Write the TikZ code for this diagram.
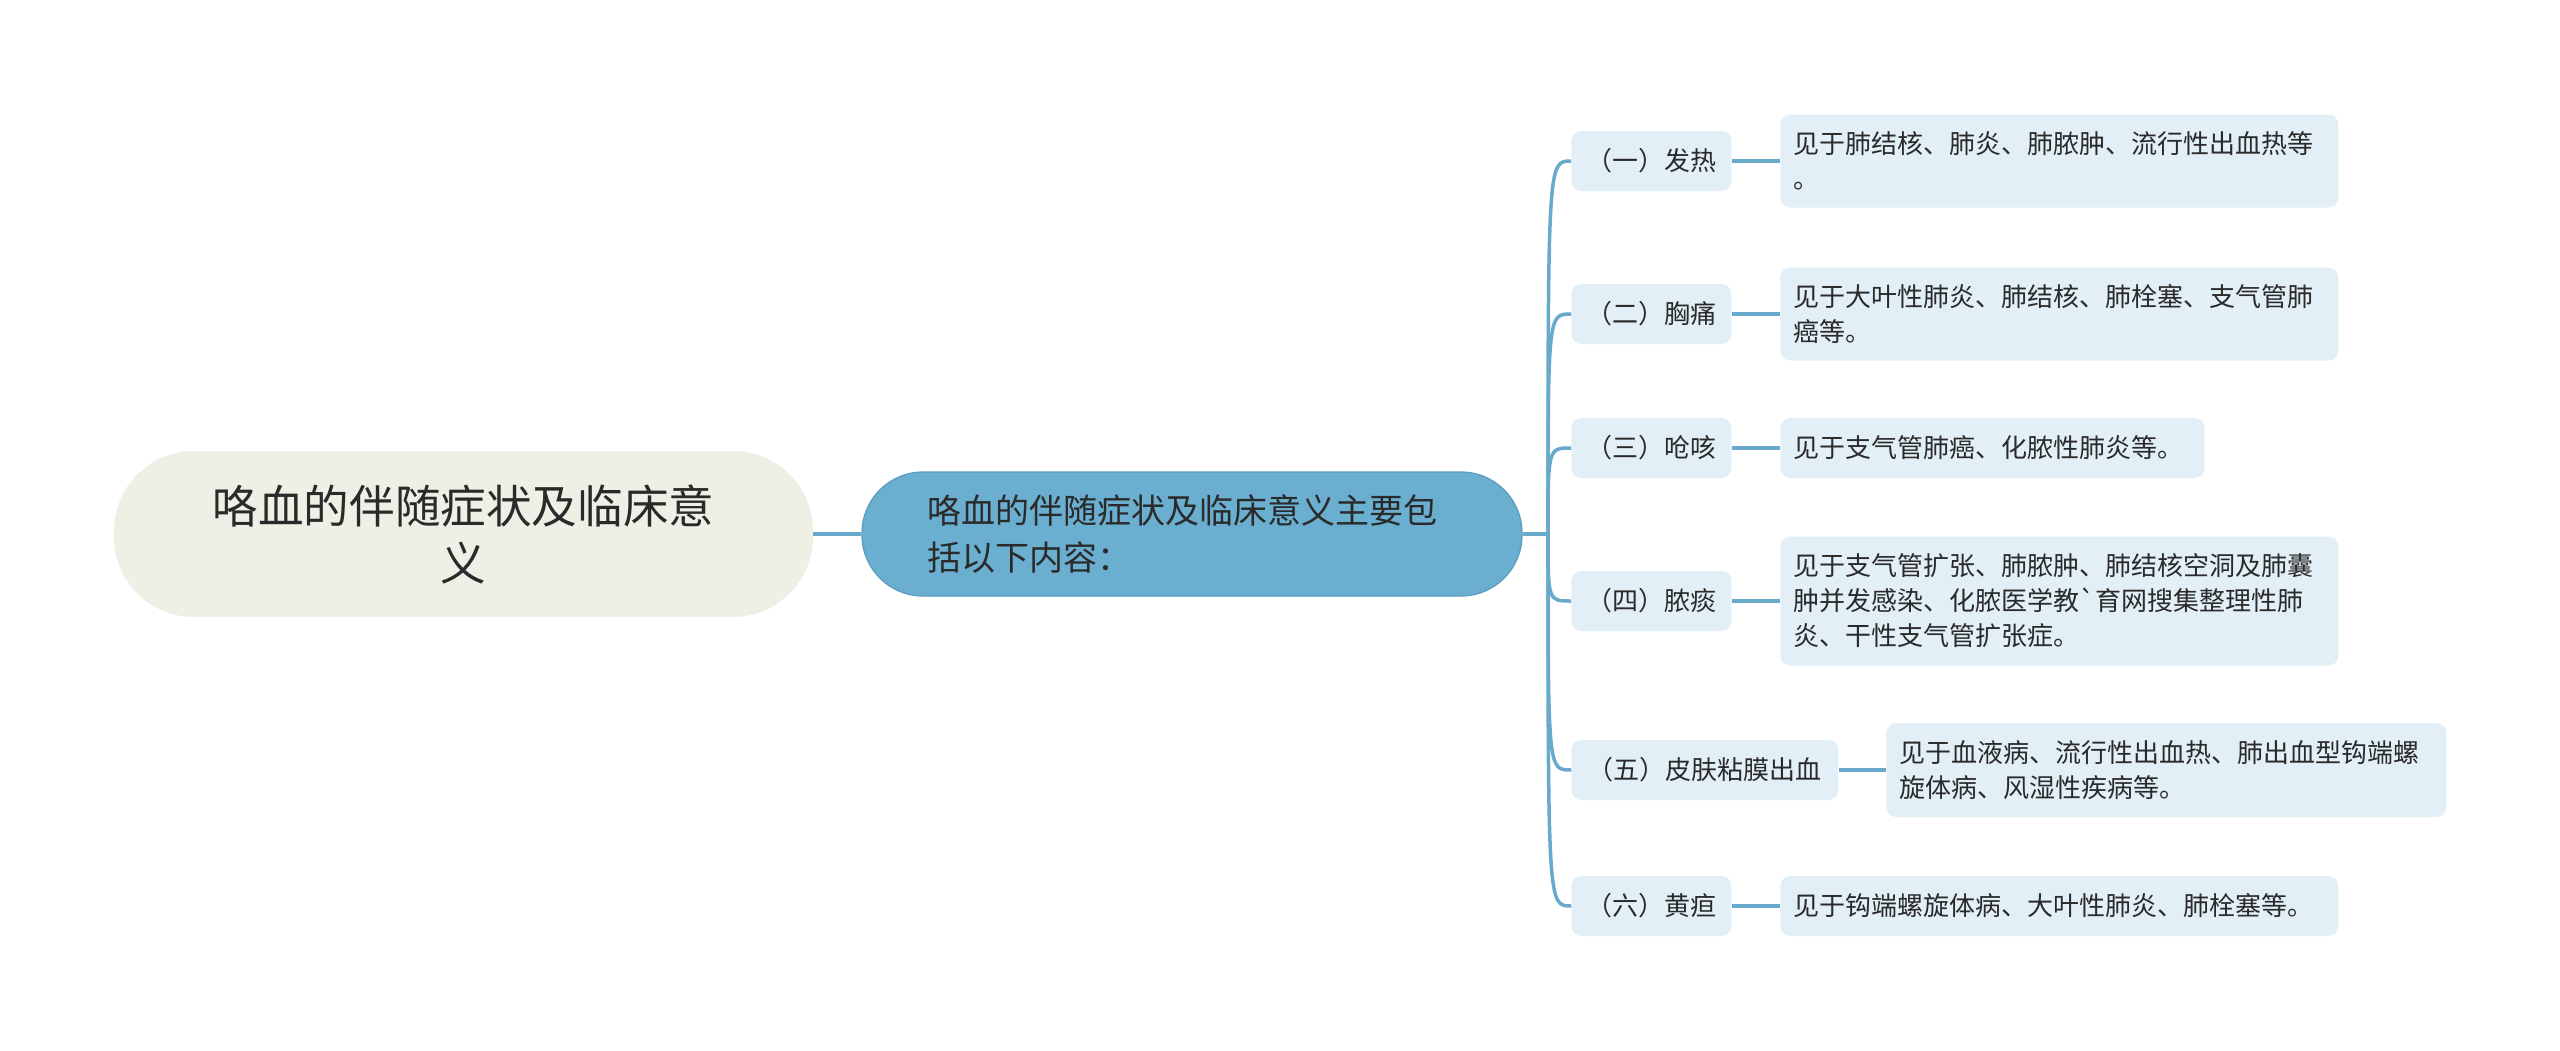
\documentclass[tikz,border=0pt]{standalone}
\usepackage{fontspec}
\newfontfamily\cjk{Noto Sans CJK SC}
\definecolor{rootfill}{HTML}{EFEFE6}
\definecolor{mainfill}{HTML}{6AAED0}
\definecolor{mainborder}{HTML}{5A9CC0}
\definecolor{childfill}{HTML}{E2EFF7}
\definecolor{conncol}{HTML}{68A9CC}
\definecolor{textdark}{HTML}{2A2A2A}
\tikzset{
  rootbox/.style={fill=rootfill, rounded corners=40pt, minimum width=349.5pt, minimum height=83pt,
    align=center, inner sep=0pt, text=textdark, font=\cjk\fontsize{22.8}{28.5}\selectfont},
  mainbox/.style={fill=mainfill, draw=mainborder, line width=0.6pt, rounded corners=30.5pt,
    minimum width=330pt, minimum height=62pt, align=left, inner xsep=32.5pt, inner ysep=0pt,
    text width=265pt, text=textdark, font=\cjk\fontsize{17}{23.5}\selectfont},
  childbox/.style={fill=childfill, rounded corners=5pt, minimum width=80pt, minimum height=30pt,
    anchor=west, inner sep=0pt, text=textdark, font=\cjk\fontsize{13}{17.5}\selectfont},
  descbox/.style={fill=childfill, rounded corners=5pt, anchor=west, inner xsep=6.5pt, inner ysep=0pt,
    align=left, text=textdark, font=\cjk\fontsize{13}{17.5}\selectfont},
  conn/.style={draw=conncol, line width=1.75pt}
}
\begin{document}
\begin{tikzpicture}[x=0.5pt,y=-0.5pt]
\useasboundingbox[fill=white] (0,0) rectangle (2560,1050);

\node[rootbox] (root) at (463.5,534) {咯血的伴随症状及临床意\\义};
\node[mainbox] (main) at (1192,534) {咯血的伴随症状及临床意义主要包\\括以下内容：};
\coordinate (J) at (1548,534);

\node[childbox] (c1) at (1571,161) {（一）发热};
\node[childbox] (c2) at (1571,314) {（二）胸痛};
\node[childbox] (c3) at (1571,448) {（三）呛咳};
\node[childbox] (c4) at (1571,601) {（四）脓痰};
\node[childbox, minimum width=133.5pt] (c5) at (1571,770) {（五）皮肤粘膜出血};
\node[childbox] (c6) at (1571,906) {（六）黄疸};

\node[descbox, text width=266pt, minimum height=46.5pt] (d1) at (1780,161) {见于肺结核、肺炎、肺脓肿、流行性出血热等\\。};
\node[descbox, text width=266pt, minimum height=46.5pt] (d2) at (1780,314) {见于大叶性肺炎、肺结核、肺栓塞、支气管肺\\癌等。};
\node[descbox, text width=199pt, minimum height=30pt] (d3) at (1780,448) {见于支气管肺癌、化脓性肺炎等。};
\node[descbox, text width=266pt, minimum height=64.5pt] (d4) at (1780,601) {见于支气管扩张、肺脓肿、肺结核空洞及肺囊\\肿并发感染、化脓医学教{\char96}育网搜集整理性肺\\炎、干性支气管扩张症。};
\node[descbox, text width=267pt, minimum height=47pt] (d5) at (1886,770) {见于血液病、流行性出血热、肺出血型钩端螺\\旋体病、风湿性疾病等。};
\node[descbox, text width=266pt, minimum height=30pt] (d6) at (1780,906) {见于钩端螺旋体病、大叶性肺炎、肺栓塞等。};

\draw[conn] (root.east) -- (main.west);
\draw[conn] (main.east) -- (J);
\foreach \c in {c1,c2,c3,c4,c5,c6}{
  \draw[conn] (J) .. controls (J|-\c.west) .. (\c.west);
}
\foreach \c/\d in {c1/d1,c2/d2,c3/d3,c4/d4,c5/d5,c6/d6}{
  \draw[conn] (\c.east) -- (\d.west);
}
\end{tikzpicture}
\end{document}
